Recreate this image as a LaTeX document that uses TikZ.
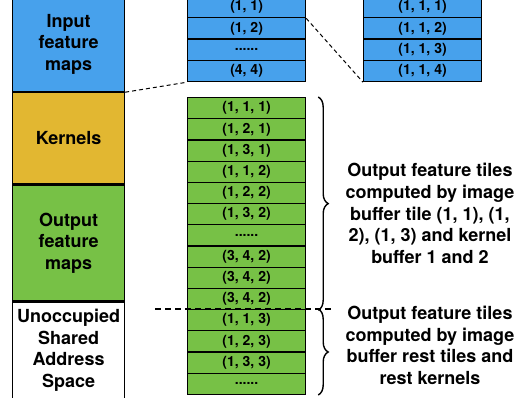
\documentclass[tikz,border=0pt]{standalone}
\usepackage{fontspec}
\setmainfont{TeX Gyre Heros}
\usetikzlibrary{decorations.pathreplacing}

\definecolor{inblue}{HTML}{47A1EC}
\definecolor{kernyellow}{HTML}{E2B731}
\definecolor{outgreen}{HTML}{77C146}
\newcommand{\moretiles}{......}

\begin{document}
\begin{tikzpicture}[x=0.5pt,y=-0.5pt,
  block/.style={draw, line width=0.6pt, minimum width=56pt, inner sep=0pt, align=center,
    anchor=north west, font=\fontsize{9}{10.85}\selectfont\bfseries},
  cell/.style={draw, line width=0.6pt, minimum width=59pt, minimum height=10.65pt, inner sep=0pt,
    anchor=north west, font=\fontsize{7}{8}\selectfont\bfseries},
  note/.style={align=center, font=\fontsize{9}{10.85}\selectfont\bfseries},
  zoomline/.style={dashed, dash pattern=on 2pt off 1.5pt, line width=0.5pt},
  cutline/.style={dashed, dash pattern=on 3pt off 2pt, line width=0.6pt}]
\useasboundingbox (0,0) rectangle (531,397);

% Shared address space, left column
\node[block, fill=inblue, minimum height=47.5pt] (inmap) at (12,-4) {Input\\feature\\maps};
\node[block, fill=kernyellow, minimum height=45.5pt] (kernels) at (inmap.south west) {Kernels};
\node[block, fill=outgreen, minimum height=58pt] (outmap) at (kernels.south west) {Output\\feature\\maps};
\node[block, minimum height=48pt] (unocc) at (outmap.south west) {Unoccupied\\Shared\\Address\\Space};

% Input tiles and one tile split up
\foreach \lab [count=\i] in {{(1, 1)},{(1, 2)},{\moretiles},{(4, 4)}}
  \node[cell, fill=inblue] (ib\i) at (187,{-4.2+(\i-1)*21.3}) {\lab};
\foreach \lab [count=\i] in {{(1, 1, 1)},{(1, 1, 2)},{(1, 1, 3)},{(1, 1, 4)}}
  \node[cell, fill=inblue] (rb\i) at (363,{-4.2+(\i-1)*21.3}) {\lab};

% Output feature tiles
\foreach \lab [count=\i] in {{(1, 1, 1)},{(1, 2, 1)},{(1, 3, 1)},{(1, 1, 2)},{(1, 2, 2)},{(1, 3, 2)},{\moretiles},
    {(3, 4, 2)},{(3, 4, 2)},{(3, 4, 2)},{(1, 1, 3)},{(1, 2, 3)},{(1, 3, 3)},{\moretiles}}
  \node[cell, fill=outgreen, minimum height=10.6pt] (ob\i) at (187,{97+(\i-1)*21.2}) {\lab};

% Zoom lines
\draw[zoomline] (inmap.south east) -- (ib4.south west);
\draw[zoomline] (ib1.south east) -- (rb4.south west);

% Split between the two groups
\coordinate (cutL) at (155,309);
\coordinate (cutR) at (333,309);
\draw[cutline] (cutL) -- (cutR);

% Braces
\draw[line width=0.7pt, decorate, decoration={brace, amplitude=5pt}]
  ([xshift=6pt]ob1.north east) -- ([xshift=6pt]ob10.south east);
\draw[line width=0.7pt, decorate, decoration={brace, amplitude=5pt}]
  ([xshift=6pt]ob11.north east) -- ([xshift=6pt]ob14.south east);

\node[note] (note1) at (430,213.5) {Output feature tiles\\computed by image\\buffer tile (1, 1), (1,\\2), (1, 3) and kernel\\buffer 1 and 2};
\node[note] (note2) at (430,345.5) {Output feature tiles\\computed by image\\buffer rest tiles and\\rest kernels};
\end{tikzpicture}
\end{document}
